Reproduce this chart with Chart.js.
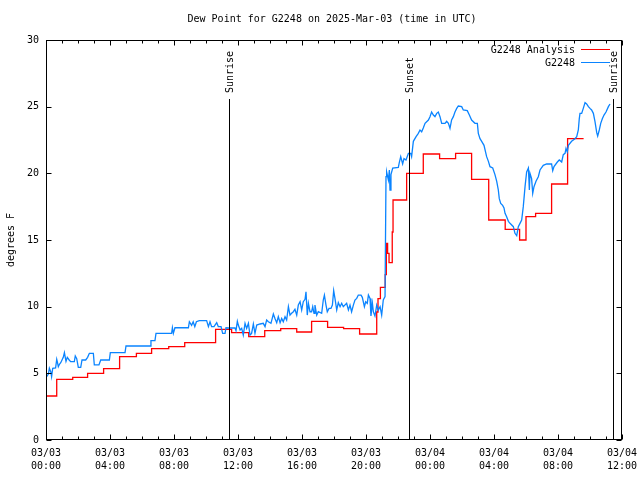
<!DOCTYPE html>
<html><head><meta charset="utf-8">
<script src="https://cdn.jsdelivr.net/npm/chart.js@4/dist/chart.umd.min.js"></script>
<style>html,body{margin:0;padding:0;background:#fff}#wrap{width:640px;height:480px}</style>
</head><body><div id="wrap"><canvas id="c" width="640" height="480"></canvas></div>
<script>
const titleText = 'Dew Point for G2248 on 2025-Mar-03 (time in UTC)';
const yAxisLabel = 'degrees F';
const xTickDates = ['03/03','03/03','03/03','03/03','03/03','03/03','03/04','03/04','03/04','03/04'];
const xTickTimes = ['00:00','04:00','08:00','12:00','16:00','20:00','00:00','04:00','08:00','12:00'];
const yTickValues = [0,5,10,15,20,25,30];
const redName = 'G2248 Analysis';
const blueName = 'G2248';
const sunEventNames = ['Sunrise','Sunset','Sunrise'];
const sunEventHours = [11.45, 22.71, 35.42];

// hours since 03/03 00:00 UTC
const redHours = [0,0.67,1.67,2.6,3.6,4.6,5.65,6.6,7.67,8.67,10.6,11.6,12.67,13.67,14.67,15.67,16.6,17.6,18.6,19.6,20.67,20.75,20.9,21.2,21.27,21.35,21.44,21.64,21.69,22.54,23.58,24.6,25.6,26.6,27.67,28.7,29.6,30.0,30.6,31.6,32.6,33.6];
const redValues = [3.3,4.55,4.7,5.0,5.35,6.25,6.5,6.85,7.0,7.3,8.3,8.05,7.75,8.2,8.35,8.1,8.9,8.45,8.35,7.95,9.6,10.6,11.45,12.4,14.75,14.0,13.3,15.6,18.0,20.0,21.45,21.1,21.5,19.55,16.5,15.8,15.0,16.75,17.0,19.2,22.6,22.6];

const blueHours = [0.04,0.15,0.21,0.3,0.35,0.42,0.6,0.67,0.72,0.77,0.85,0.92,1.08,1.15,1.25,1.33,1.45,1.54,1.77,1.83,1.92,2.02,2.17,2.25,2.48,2.6,2.71,2.96,3.02,3.31,3.42,3.96,4.02,4.94,5.0,6.5,6.56,6.81,6.875,7.85,7.9,7.96,8.06,8.9,8.96,9.1,9.2,9.3,9.4,9.58,10.04,10.15,10.25,10.35,10.5,10.67,10.77,10.94,11.04,11.19,11.25,11.4,11.81,11.875,11.96,
12.02,12.13,12.23,12.33,12.44,12.54,12.65,12.75,12.85,12.96,13.06,13.17,13.38,13.58,13.69,13.79,13.9,14.06,14.21,14.31,14.42,14.52,14.63,14.73,14.83,14.94,15.04,15.15,15.25,15.35,15.46,15.56,15.67,15.77,15.88,15.98,16.08,16.19,16.25,16.33,16.4,16.5,16.6,16.67,16.75,16.81,16.92,17.02,17.23,17.33,17.4,17.5,17.58,17.69,17.81,17.9,17.98,18.06,18.17,18.27,18.38,18.48,18.58,18.79,18.9,19.0,19.1,19.21,19.31,19.42,19.52,19.69,19.77,19.9,19.98,20.08,20.15,20.25,20.31,20.4,20.46,20.56,20.67,20.77,20.88,20.98,21.08,21.19,
21.25,21.29,21.4,21.46,21.5,21.56,21.67,22.02,22.08,22.17,22.29,22.375,22.5,22.65,22.79,22.85,22.96,23.13,23.27,23.375,23.48,23.58,23.69,23.9,24.0,24.1,24.21,24.31,24.42,24.52,24.625,24.73,24.94,25.04,25.15,25.25,25.35,25.46,25.56,25.67,25.77,25.98,26.08,26.33,26.46,26.6,26.81,26.96,27.02,27.125,27.23,27.375,27.54,27.65,27.75,27.92,28.06,28.17,28.27,28.33,
28.42,28.54,28.625,28.69,28.79,28.9,29.0,29.21,29.31,29.42,29.52,29.625,29.73,29.83,29.94,30.04,30.15,30.21,30.25,30.35,30.42,30.5,30.625,30.77,30.875,31.08,31.29,31.6,31.67,31.75,31.96,32.08,32.23,32.33,32.44,32.5,32.58,32.65,32.85,33.06,33.17,33.27,33.33,33.375,33.48,33.58,33.69,33.79,33.9,34.0,34.1,34.21,34.31,34.42,34.48,34.58,34.67,34.77,34.875,35.0,35.15,35.25];
const blueValues = [4.75,4.95,5.38,5.1,4.75,5.38,5.4,6.05,5.8,5.5,5.7,5.8,6.2,6.55,5.9,6.2,6.0,5.88,5.88,6.3,6.1,5.45,5.45,6.0,6.0,6.2,6.5,6.5,5.63,5.63,6.0,6.0,6.55,6.55,7.05,7.05,7.45,7.45,8.0,8.0,8.42,8.0,8.42,8.42,8.87,8.6,8.87,8.5,8.87,8.95,8.95,8.5,8.87,8.5,8.5,8.8,8.5,8.5,8.0,8.0,8.42,8.4,8.4,8.2,8.9,
8.62,8.25,8.37,7.87,8.75,8.37,8.75,7.87,8.0,8.7,8.0,8.62,8.7,8.75,8.5,9.0,8.87,8.75,9.45,9.12,8.8,9.25,8.8,9.12,8.87,9.25,9.0,10.0,9.37,9.5,9.62,9.8,9.37,10.12,10.37,9.75,10.37,10.55,11.12,9.37,10.25,9.62,9.62,10.0,9.5,10.12,9.37,9.62,9.5,10.5,10.87,10.12,9.62,9.87,9.87,10.12,11.2,10.62,9.75,10.3,10.0,10.25,10.0,10.25,9.75,10.12,9.62,10.12,10.5,10.62,10.87,10.87,10.7,10.0,10.37,10.25,10.87,10.62,9.3,10.25,9.62,9.3,10.12,9.75,10.0,9.37,10.5,10.75,
19.75,20.1,19.5,20.25,18.75,19.9,20.4,20.45,20.8,21.25,20.7,21.1,21.0,21.5,21.5,21.25,22.4,22.75,23.0,23.25,23.12,23.4,23.75,24.0,24.25,24.6,24.37,24.25,24.5,24.6,24.25,23.75,23.75,23.9,23.75,23.37,24.0,24.25,24.6,24.87,25.05,25.0,24.75,24.7,24.37,24.0,23.75,23.75,23.0,22.6,22.4,22.1,21.25,20.9,20.5,20.4,19.9,19.4,18.75,18.1,
17.75,17.6,17.4,17.0,16.75,16.4,16.25,16.0,15.5,15.33,16.0,16.25,16.5,17.5,19.0,20.1,20.4,18.75,20.0,19.6,18.5,19.0,19.4,19.75,20.25,20.6,20.7,20.7,20.2,20.5,20.85,21.0,20.85,21.4,21.5,21.87,21.6,22.1,22.4,22.6,22.75,23.25,24.1,24.5,24.5,24.87,25.3,25.2,25.0,24.87,24.75,24.5,23.9,23.05,22.8,23.25,23.75,24.1,24.37,24.6,25.0,25.2];

const FONT = 'DejaVu Sans Mono';
const redColor = '#ff0000';
const blueColor = '#0a84ff';

const toXY = (hs, vs) => hs.map((h, i) => ({x: h, y: vs[i]}));

const overlay = {
  id: 'overlay',
  afterDatasetsDraw(chart) {
    const ctx = chart.ctx;
    const a = chart.chartArea;
    const xs = chart.scales.x, ys = chart.scales.y;
    const L = Math.round(a.left) + 0.5, R = Math.round(a.right) - 0.5;
    const T = Math.round(a.top) + 0.5, B = Math.round(a.bottom) - 0.5;
    ctx.save();
    ctx.strokeStyle = '#000';
    ctx.lineWidth = 1;
    ctx.beginPath();
    // x ticks: minor every hour, major every 4 hours
    for (let h = 0; h <= 36; h++) {
      const px = Math.round(xs.getPixelForValue(h)) + 0.5;
      const len = (h % 4 === 0) ? 5 : 3;
      ctx.moveTo(px, B); ctx.lineTo(px, B - len);
      ctx.moveTo(px, T); ctx.lineTo(px, T + len);
    }
    yTickValues.forEach(v => {
      const py = Math.round(ys.getPixelForValue(v)) + 0.5;
      ctx.moveTo(L, py); ctx.lineTo(L + 5, py);
      ctx.moveTo(R, py); ctx.lineTo(R - 5, py);
    });
    ctx.stroke();
    // sun event lines
    ctx.font = '10px "' + FONT + '"';
    sunEventHours.forEach((h, i) => {
      const px = Math.round(xs.getPixelForValue(h)) + 0.5;
      ctx.beginPath();
      ctx.moveTo(px, 99); ctx.lineTo(px, B);
      ctx.stroke();
      ctx.save();
      ctx.translate(px + 1, 93);
      ctx.rotate(-Math.PI / 2);
      ctx.fillStyle = '#000';
      ctx.textAlign = 'left';
      ctx.textBaseline = 'middle';
      ctx.fillText(sunEventNames[i], 0, 0);
      ctx.restore();
    });
    // border
    ctx.strokeRect(L, T, R - L, B - T);
    // legend
    ctx.fillStyle = '#000';
    ctx.textAlign = 'right';
    ctx.textBaseline = 'middle';
    ctx.fillText(redName, 575, 50);
    ctx.fillText(blueName, 575, 63);
    ctx.lineWidth = 1;
    ctx.strokeStyle = redColor;
    ctx.beginPath(); ctx.moveTo(581, 49.5); ctx.lineTo(610, 49.5); ctx.stroke();
    ctx.strokeStyle = blueColor;
    ctx.beginPath(); ctx.moveTo(581, 62.5); ctx.lineTo(610, 62.5); ctx.stroke();
    // title
    ctx.textAlign = 'center';
    ctx.fillText(titleText, (a.left + a.right) / 2 - 2, 19);
    // y axis label
    ctx.save();
    ctx.translate(11, (a.top + a.bottom) / 2);
    ctx.rotate(-Math.PI / 2);
    ctx.textAlign = 'center';
    ctx.textBaseline = 'middle';
    ctx.fillText(yAxisLabel, 0, 0);
    ctx.restore();
    ctx.restore();
  }
};

new Chart(document.getElementById('c'), {
  type: 'line',
  data: {
    datasets: [
      { label: blueName, data: toXY(blueHours, blueValues), borderColor: blueColor, borderWidth: 1.3,
        pointRadius: 0, tension: 0, fill: false, order: 1 },
      { label: redName, data: toXY(redHours, redValues), borderColor: redColor, borderWidth: 1.3,
        pointRadius: 0, stepped: true, fill: false, order: 2 }
    ]
  },
  options: {
    responsive: false,
    animation: false,
    devicePixelRatio: 1,
    layout: { padding: { top: 40, right: 18, left: 0, bottom: 0 } },
    plugins: { legend: { display: false }, tooltip: { enabled: false }, title: { display: false } },
    scales: {
      x: {
        type: 'linear', min: 0, max: 36,
        afterFit: s => { s.height = 40; s.paddingLeft = 0; s.paddingRight = 0; },
        grid: { display: false, drawTicks: false },
        border: { display: false },
        ticks: {
          stepSize: 4, autoSkip: false, maxRotation: 0, padding: 7, color: '#000',
          font: { family: FONT, size: 10, lineHeight: 1.3 },
          callback: v => { const i = Math.round(v / 4); return [xTickDates[i], xTickTimes[i]]; }
        }
      },
      y: {
        type: 'linear', min: 0, max: 30,
        afterFit: s => { s.width = 46; s.paddingTop = 0; s.paddingBottom = 0; },
        grid: { display: false, drawTicks: false },
        border: { display: false },
        ticks: {
          stepSize: 5, padding: 7, color: '#000',
          font: { family: FONT, size: 10 },
          callback: v => String(v)
        }
      }
    }
  },
  plugins: [overlay]
});
</script></body></html>
